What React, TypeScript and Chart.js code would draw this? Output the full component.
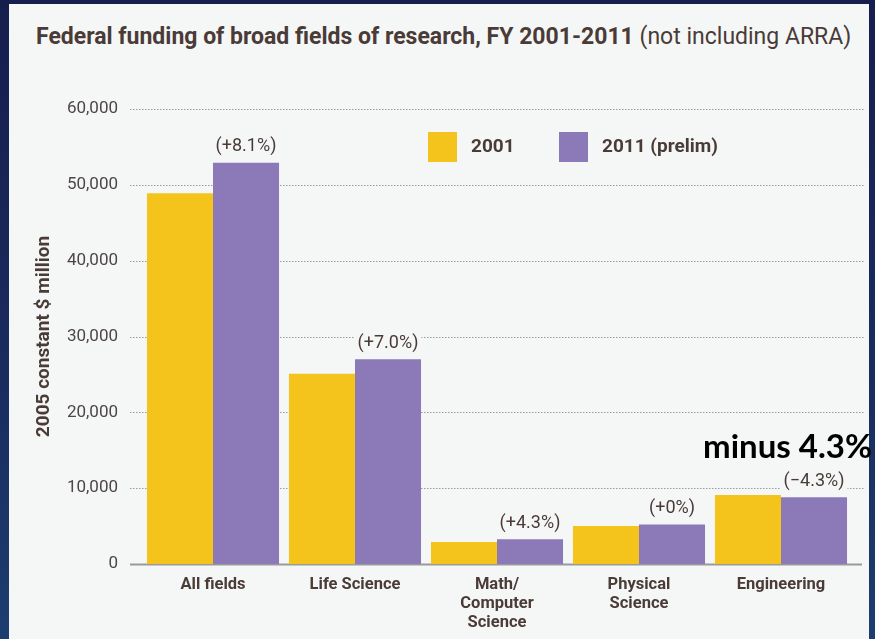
import React, { useEffect, useRef } from "react";
import { Chart, registerables } from "chart.js";

Chart.register(...registerables);

// ---- data ----
const categories: string[][] = [
  ["All fields"],
  ["Life Science"],
  ["Math/", "Computer", "Science"],
  ["Physical", "Science"],
  ["Engineering"],
];
const seriesNames = ["2001", "2011 (prelim)"];
const values2001 = [48900, 25100, 2900, 5000, 9100];
const values2011 = [52900, 27000, 3250, 5200, 8800];
const changeLabels = ["(+8.1%)", "(+7.0%)", "(+4.3%)", "(+0%)", "(\u22124.3%)"];
const yTickValues = [0, 10000, 20000, 30000, 40000, 50000, 60000];
const yTitle = "2005 constant $ million";
const titleBold = "Federal funding of broad fields of research, FY 2001-2011";
const titleLight = "(not including ARRA)";
const annotation = "minus 4.3%";

const YELLOW = "#f4c41d";
const PURPLE = "#8b7ab7";
const TEXT = "#4a3b37";
const PANEL = "#f5f7f7";
const FONT = "Roboto, 'Open Sans', sans-serif";

const gridPlugin = {
  id: "dottedGrid",
  beforeDatasetsDraw(chart: any) {
    const { ctx, chartArea, scales } = chart;
    const y = scales.y;
    ctx.save();
    yTickValues.forEach((v) => {
      const py = Math.round(y.getPixelForValue(v)) + 0.5;
      ctx.beginPath();
      if (v === 0) {
        ctx.setLineDash([]);
        ctx.strokeStyle = "#9a9a9a";
        ctx.lineWidth = 2;
        ctx.moveTo(chartArea.left - 12, py);
        ctx.lineTo(chartArea.right + 10, py);
      } else {
        ctx.setLineDash([1.5, 1.5]);
        ctx.strokeStyle = "#9a9a9a";
        ctx.lineWidth = 1;
        ctx.moveTo(chartArea.left - 12, py);
        ctx.lineTo(chartArea.right + 13, py);
      }
      ctx.stroke();
    });
    ctx.restore();
  },
};

const labelsPlugin = {
  id: "changeLabels",
  afterDatasetsDraw(chart: any) {
    const { ctx } = chart;
    const meta = chart.getDatasetMeta(1);
    ctx.save();
    ctx.font = `18px ${FONT}`;
    ctx.textAlign = "center";
    ctx.textBaseline = "middle";
    meta.data.forEach((el: any, i: number) => {
      const txt = changeLabels[i];
      const w = ctx.measureText(txt).width;
      const cy = el.y - 16;
      ctx.fillStyle = PANEL;
      ctx.fillRect(el.x - w / 2 - 3, cy - 9, w + 6, 18);
      ctx.fillStyle = TEXT;
      ctx.fillText(txt, el.x, cy);
    });
    ctx.restore();
  },
};

const legendPlugin = {
  id: "insideLegend",
  afterDraw(chart: any) {
    const { ctx, chartArea } = chart;
    const starts = [chartArea.left + 286, chartArea.left + 417];
    ctx.save();
    ctx.font = `bold 19px ${FONT}`;
    ctx.textBaseline = "middle";
    ctx.textAlign = "left";
    chart.data.datasets.forEach((ds: any, i: number) => {
      const x = starts[i];
      const y = chartArea.top + 23;
      ctx.fillStyle = ds.backgroundColor;
      ctx.fillRect(x, y, 29, 30);
      ctx.fillStyle = TEXT;
      ctx.fillText(ds.label, x + 43, y + 15);
    });
    ctx.restore();
  },
};

export default function App() {
  const canvasRef = useRef<HTMLCanvasElement | null>(null);

  useEffect(() => {
    if (!canvasRef.current) return;
    const chart = new Chart(canvasRef.current, {
      type: "bar",
      data: {
        labels: categories as any,
        datasets: [
          {
            label: seriesNames[0],
            data: values2001,
            backgroundColor: YELLOW,
            categoryPercentage: 0.93,
            barPercentage: 1.0,
          },
          {
            label: seriesNames[1],
            data: values2011,
            backgroundColor: PURPLE,
            categoryPercentage: 0.93,
            barPercentage: 1.0,
          },
        ],
      },
      options: {
        responsive: false,
        animation: false,
        layout: { padding: { left: 33, right: 23, top: 109, bottom: 0 } },
        plugins: {
          legend: { display: false },
          tooltip: { enabled: false },
          title: { display: false },
        },
        scales: {
          x: {
            grid: { display: false, drawTicks: false },
            border: { display: false },
            ticks: {
              color: TEXT,
              font: { family: FONT, size: 16.5, weight: "bold", lineHeight: 1.15 },
              padding: 11.5,
              maxRotation: 0,
              autoSkip: false,
            },
            afterFit: (s: any) => {
              s.height = 75;
            },
          },
          y: {
            min: 0,
            max: 60000,
            afterBuildTicks: (s: any) => {
              s.ticks = yTickValues.map((v) => ({ value: v }));
            },
            grid: { display: false, drawTicks: false },
            border: { display: false },
            ticks: {
              color: "#4d4646",
              font: { family: FONT, size: 17 },
              padding: 24,
              callback: (v: any) => Number(v).toLocaleString("en-US"),
            },
            title: {
              display: true,
              text: yTitle,
              color: TEXT,
              font: { family: FONT, size: 19, weight: "bold" },
              padding: 0,
            },
            afterFit: (s: any) => {
              s.width = 109;
            },
          },
        },
      },
      plugins: [gridPlugin, labelsPlugin, legendPlugin],
    });
    return () => chart.destroy();
  }, []);

  return (
    <div
      style={{
        position: "fixed",
        left: 0,
        top: 0,
        width: 875,
        height: 639,
        overflow: "hidden",
        background: "linear-gradient(180deg, #161e4d 0%, #1a2c5f 60%, #1d3d70 100%)",
      }}
    >
      <div
        style={{
          position: "absolute",
          left: 9,
          top: 4,
          width: 860,
          height: 635,
          background: PANEL,
        }}
      />
      <div
        style={{
          position: "absolute",
          left: 36,
          top: 24,
          whiteSpace: "nowrap",
          fontFamily: FONT,
          fontSize: 23,
          lineHeight: "26px",
          color: TEXT,
        }}
      >
        <span style={{ fontWeight: "bold" }}>{titleBold}</span>{" "}
        <span style={{ fontWeight: 400 }}>{titleLight}</span>
      </div>
      <canvas
        ref={canvasRef}
        width={875}
        height={639}
        style={{ position: "absolute", left: 0, top: 0, width: 875, height: 639 }}
      />
      <div
        style={{
          position: "absolute",
          left: 703,
          top: 426,
          whiteSpace: "nowrap",
          fontFamily: "Lato, 'Noto Sans', sans-serif",
          fontWeight: 700,
          fontSize: 33,
          lineHeight: "38px",
          color: "#000",
        }}
      >
        {annotation}
      </div>
    </div>
  );
}
